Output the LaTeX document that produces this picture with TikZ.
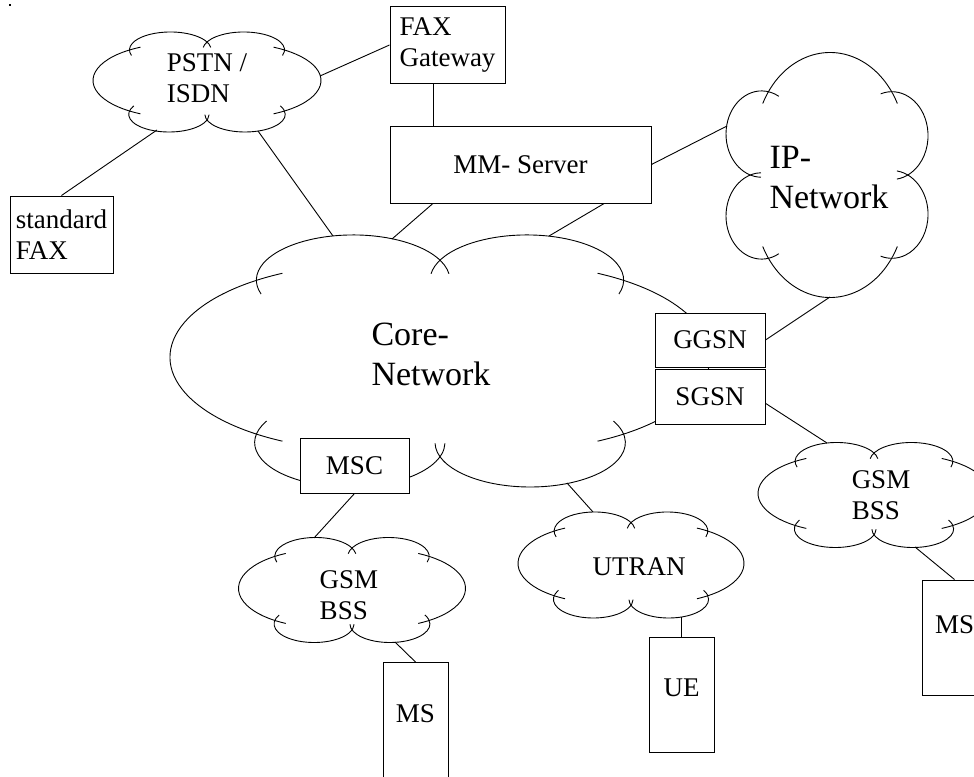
\documentclass[tikz,border=0pt]{standalone}
\usepackage{fontspec}
\setmainfont{Liberation Serif}
\usepackage{tikz}

\begin{document}
\begin{tikzpicture}[x=1pt, y=-1pt, line width=0.9pt,
		every node/.style={font=\fontsize{27}{30.5}\selectfont},
		tekst/.style={align=left, inner sep=0pt},
		groot/.style={font=\fontsize{34}{40}\selectfont},
		kader/.style={draw, fill=white, align=left, inner sep=0pt, line width=1pt},
		toestel/.style={kader, minimum width=65, minimum height=115, text depth=13}]

			% Afmetingen van de tekening (pixels)
			\useasboundingbox (0,0) rectangle (974,776);
			\fill (9,4) rectangle (11,6);

			% Wolk: middelpunt, vector halve breedte, vector halve hoogte
			% Formaat boogjes: middelpunt u / v / straal / beginhoek / eindhoek
			\def\wolk#1#2#3{%
				\begin{scope}[shift={#1}, x={#2}, y={#3}]
					\foreach \u/\v/\r/\a/\b in {-0.3217/0.6421/0.3584/8/198, 0.3217/0.6421/0.3584/-18/172,
							0.2586/0.03/0.7414/-64/64, -0.2586/0.03/0.7414/116/244,
							-0.3341/-0.6476/0.3524/151/359, 0.3341/-0.6476/0.3524/181/389} {
							\draw (\u,\v) ++(\a:\r) arc[start angle=\a, end angle=\b, radius=\r];
						}
				\end{scope}}

			% --- Wolken ---
			\wolk{(440,361)}{(270pt,0pt)}{(0pt,126pt)}
			\wolk{(827,175)}{(0pt,122.5pt)}{(101pt,0pt)}
			\wolk{(207,82)}{(114pt,0pt)}{(0pt,50pt)}
			\wolk{(352,590)}{(113.5pt,0pt)}{(0pt,52.5pt)}
			\wolk{(631,565)}{(113pt,0pt)}{(0pt,53pt)}
			\wolk{(874,495)}{(116pt,0pt)}{(0pt,52.5pt)}

			\node[tekst, groot] (core) at (431,354) {Core-\\Network};
			\node[tekst, groot] (ipnet) at (829,178) {IP-\\Network};
			\node[tekst] (pstn) at (207,78) {PSTN /\\ISDN};
			\node[tekst] (gsml) at (349,595) {GSM\\BSS};
			\node[tekst] (utran) at (639,567) {UTRAN};
			\node[tekst] (gsmr) at (881,495) {GSM\\BSS};

			% Aansluitpunten op de wolkranden
			\coordinate (pstn-fax) at (320,76);
			\coordinate (pstn-std) at (157,130);
			\coordinate (pstn-core) at (258,131);
			\coordinate (core-pstn) at (333,236);
			\coordinate (core-mm1) at (392,239);
			\coordinate (core-mm2) at (549,236);
			\coordinate (core-utran) at (567,483);
			\coordinate (ipnet-mm) at (727,126);
			\coordinate (ipnet-ggsn) at (830,297);
			\coordinate (gsmr-sgsn) at (827,443);
			\coordinate (gsmr-ms) at (915,547);
			\coordinate (gsml-msc) at (314,538);
			\coordinate (gsml-ms) at (395,642);
			\coordinate (utran-core) at (593,512);
			\coordinate (utran-ue) at (681.5,617);

			% --- Kaders ---
			\node[kader, minimum width=115, minimum height=76] (faxgw) at (447.5,45) {FAX\\Gateway};
			\node[kader, minimum width=261, minimum height=77] (mmserver) at (520.5,164.5) {MM- Server};
			\node[kader, minimum width=103, minimum height=77] (stdfax) at (61.5,234.5) {standard\\FAX};
			\node[kader, minimum width=110, minimum height=54] (ggsn) at (710,340) {GGSN};
			\node[kader, minimum width=110, minimum height=55] (sgsn) at (710,396.5) {SGSN};
			\node[kader, minimum width=109, minimum height=55] (msc) at (354.5,465.5) {MSC};

			% Toestellen: naam / x / y / tekst
			\foreach \n/\x/\y/\t in {msl/415.5/720/MS, ue/681.5/694.5/UE} {
					\node[toestel] (\n) at (\x,\y) {\t};
				}
			\node[toestel, text depth=25] (msr) at (954.5,637.5) {MS};

			% --- Verbindingen ---
			\draw (pstn-fax) -- (faxgw.west);
			\draw (pstn-std) -- (stdfax.north);
			\draw (pstn-core) -- (core-pstn);
			\draw (faxgw.-110) -- (faxgw.-110 |- mmserver.north);
			\draw (mmserver.east) -- (ipnet-mm);
			\draw (mmserver.204) -- (core-mm1);
			\draw (mmserver.335.5) -- (core-mm2);
			\draw (ipnet-ggsn) -- (ggsn.east);
			\draw (sgsn.-7) -- (gsmr-sgsn);
			\draw (gsmr-ms) -- (msr.north);
			\draw (msc.south) -- (gsml-msc);
			\draw (gsml-ms) -- (msl.north);
			\draw (core-utran) -- (utran-core);
			\draw (utran-ue) -- (ue.north);

		\end{tikzpicture}
\end{document}
